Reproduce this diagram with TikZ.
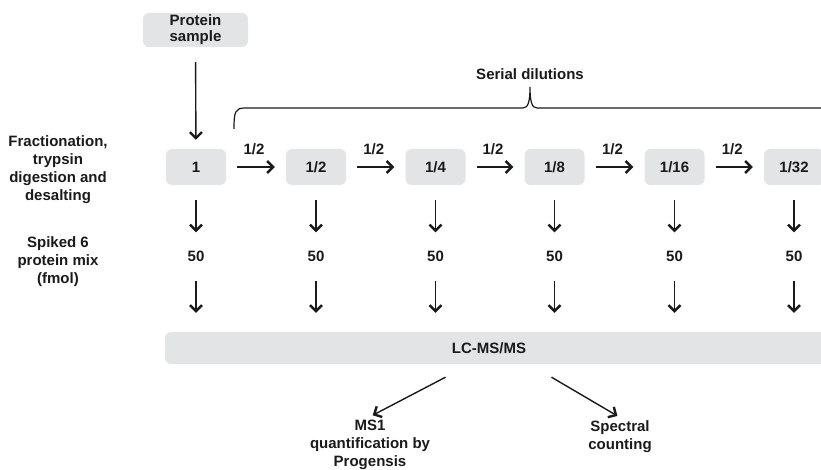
\documentclass[tikz,border=0pt]{standalone}
\usepackage{fontspec}
\setmainfont{Liberation Sans}
\usetikzlibrary{arrows.meta}
\definecolor{boxgrey}{HTML}{E3E4E6}
\definecolor{inkc}{HTML}{1A1A1A}
\begin{document}
\begin{tikzpicture}[x=1pt,y=-1pt,
  every node/.style={font=\bfseries\fontsize{15}{18}\selectfont, text=inkc, align=center},
  greybox/.style={fill=boxgrey, rounded corners=6pt, inner sep=0pt},
  smallbox/.style={greybox, minimum width=60pt, minimum height=36pt},
  numnode/.style={inner sep=0pt, minimum height=48pt, minimum width=30pt},
  arr/.style={draw=inkc, line width=1.4pt, -{Straight Barb[length=6pt,width=12pt,line width=2.4pt]}},
  bracepath/.style={draw=inkc, line width=1.2pt}
]
\useasboundingbox (0,0) rectangle (821,470);

% top box
\node[greybox, minimum width=105pt, minimum height=34pt] (ps) at (195.5,30) {Protein\\[-2pt]sample};

% dilution boxes
\node[smallbox] (b0) at (196,167) {1};
\node[smallbox] (b1) at (316,167) {1/2};
\node[smallbox] (b2) at (435.5,167) {1/4};
\node[smallbox] (b3) at (554.5,167) {1/8};
\node[smallbox] (b4) at (674.5,167) {1/16};
\node[smallbox] (b5) at (794,167) {1/32};

\draw[arr, shorten <=15pt, shorten >=9pt] (ps) -- (b0);

% horizontal dilution arrows
\foreach \a/\b in {b0/b1,b1/b2,b2/b3,b3/b4,b4/b5}{
  \draw[arr, shorten <=11pt, shorten >=11pt] (\a) -- node[above=8pt, xshift=-2pt] (l\a) {1/2} (\b);
}

% numbers
\foreach \i/\x in {0/196,1/316,2/435.5,3/554.5,4/674.5,5/794}{
  \node[numnode] (n\i) at (\x,256.5) {50};
  \draw[arr, shorten <=15pt] (b\i.south) -- (n\i.north);
}

% LC-MS/MS bar
\node[greybox, minimum width=665pt, minimum height=32pt] (bar) at (497.5,348) {};
\node (barlbl) at (489,348) {LC-MS/MS};

\foreach \i in {0,...,5}{
  \draw[arr, shorten >=19pt] (n\i.south) -- (n\i.south |- bar.north);
}

% left labels
\node (frac) at (58,170) {Fractionation,\\trypsin\\digestion and\\desalting};
\node (spk) at (58,262) {Spiked 6\\protein mix\\(fmol)};

% brace
\node (sd) at (530,74) {Serial dilutions};
\draw[bracepath] (234,129) .. controls (234,112) and (235,108) .. (245,108)
  -- (523,108) .. controls (528,108) and (530,102) .. (530,87)
  .. controls (530,102) and (532,108) .. (537,108) -- (830,108);

% outputs
\node (ms1) at (370,445) {MS1\\quantification by\\Progensis};
\node (sc) at (620,437) {Spectral\\counting};
\coordinate (lstart) at ([xshift=-52pt,yshift=-13pt]bar.south);
\coordinate (rstart) at ([xshift=54pt,yshift=-13pt]bar.south);
\draw[arr, shorten >=3pt] (lstart) -- (ms1.north);
\draw[arr, shorten >=3pt] (rstart) -- (sc.north);
\end{tikzpicture}
\end{document}
